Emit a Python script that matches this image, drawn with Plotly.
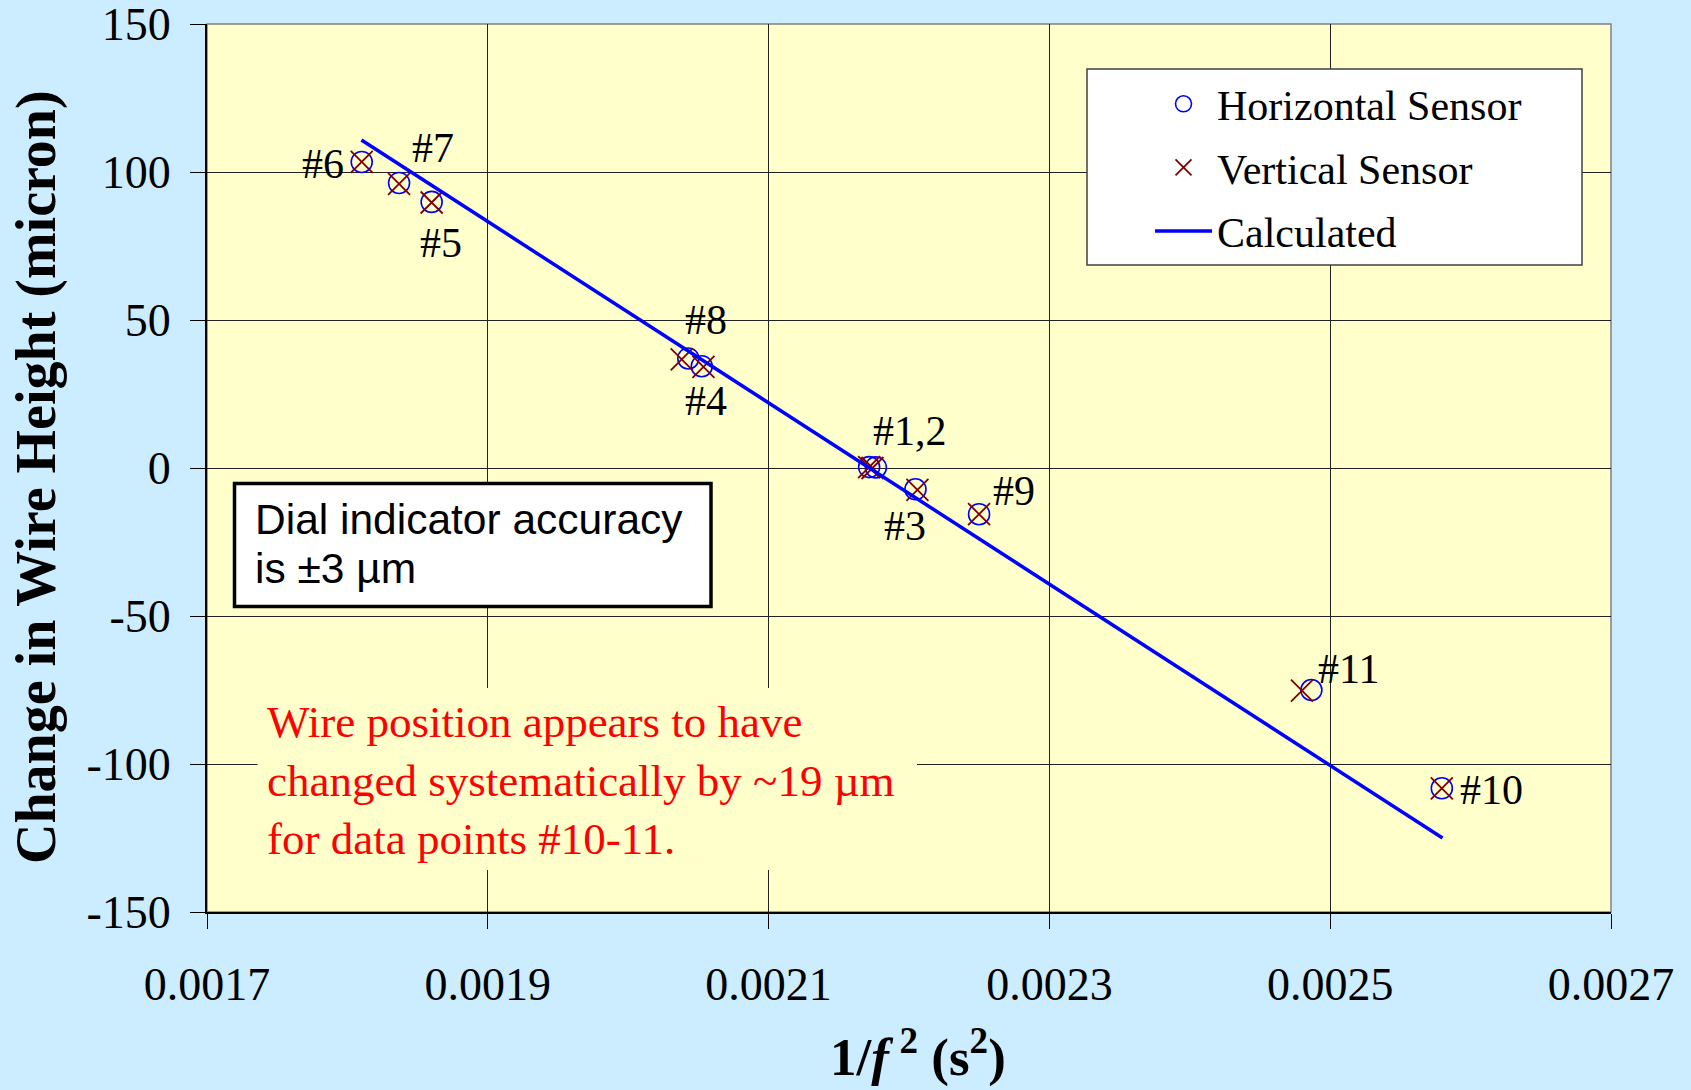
import plotly.graph_objects as go

# ---------------- data ----------------
point_labels = ["#1", "#2", "#3", "#4", "#5", "#6", "#7", "#8", "#9", "#10", "#11"]
horiz_x = [0.0021716, 0.0021764, 0.0022046, 0.0020524, 0.0018600, 0.0018102,
           0.0018368, 0.0020428, 0.0022499, 0.0025795, 0.0024866]
horiz_y = [0.3, 0.2, -7.2, 34.4, 89.9, 103.4, 96.3, 37.0, -15.6, -108.2, -75.0]
vert_x = [0.0021716, 0.0021740, 0.0022060, 0.0020536, 0.0018600, 0.0018102,
          0.0018368, 0.0020381, 0.0022499, 0.0025795, 0.0024799]
vert_y = [0.3, 0.0, -7.4, 34.2, 89.7, 103.4, 96.0, 36.7, -15.6, -108.2, -75.2]
calc_x = [0.00181, 0.00258]
calc_y = [110.8, -125.0]

x_ticks = [0.0017, 0.0019, 0.0021, 0.0023, 0.0025, 0.0027]
x_tick_text = ["0.0017", "0.0019", "0.0021", "0.0023", "0.0025", "0.0027"]
y_ticks = [150, 100, 50, 0, -50, -100, -150]
y_tick_text = ["150", "100", "50", "0", "-50", "-100", "-150"]

# label texts and their anchor points (data coords)
lab_text = ["#6", "#7", "#5", "#8", "#4", "#1,2", "#3", "#9", "#11", "#10"]
lab_x = [0.0017823, 0.0018610, 0.0018667, 0.0020551, 0.0020554, 0.0022005,
         0.0021969, 0.0022748, 0.0025127, 0.0026152]
lab_y = [102.6, 108.2, 75.9, 49.9, 22.6, 12.5, -19.6, -7.8, -67.9, -108.8]

# ---------------- layout constants ----------------
W, H = 1691, 1090
L, R, T, B = 207, 80, 24, 178
PW, PH = W - L - R, H - T - B

def px_x(px):
    return (px - L) / PW

def px_y(py):
    return (H - B - py) / PH

SERIF = "Liberation Serif, Times New Roman, serif"
SANS = "Liberation Sans, Arial, sans-serif"

fig = go.Figure()
fig.add_trace(go.Scatter(
    x=horiz_x, y=horiz_y, mode="markers", name="Horizontal Sensor",
    legendgroup="h",
    marker=dict(symbol="circle-open", size=21, color="#0000FF",
                line=dict(width=1.6, color="#0000FF")),
))
fig.add_trace(go.Scatter(
    x=vert_x, y=vert_y, mode="markers", name="Vertical Sensor",
    legendgroup="v",
    marker=dict(symbol="x-thin-open", size=22, color="#800000",
                line=dict(width=1.8, color="#800000")),
))
fig.add_trace(go.Scatter(
    x=calc_x, y=calc_y, mode="lines", name="Calculated",
    legendgroup="c",
    line=dict(color="#0000FF", width=3.5),
))

for t, x, y in zip(lab_text, lab_x, lab_y):
    fig.add_annotation(x=x, y=y, text=t, showarrow=False,
                       font=dict(family=SERIF, size=42, color="black"),
                       xanchor="center", yanchor="middle")

shapes = [
    # plot border (top/right grey)
    dict(type="rect", xref="paper", yref="paper", x0=0, x1=1, y0=0, y1=1,
         line=dict(color="#808080", width=1.5), layer="below"),
    # legend box
    dict(type="rect", xref="paper", yref="paper",
         x0=px_x(1087), x1=px_x(1582), y0=px_y(265), y1=px_y(69),
         fillcolor="white", line=dict(color="#404040", width=1.5), layer="above"),
    # dial indicator box
    dict(type="rect", xref="paper", yref="paper",
         x0=px_x(234.5), x1=px_x(711), y0=px_y(606.5), y1=px_y(483.5),
         fillcolor="white", line=dict(color="black", width=3.5), layer="above"),
    # red note background
    dict(type="rect", xref="paper", yref="paper",
         x0=px_x(257.5), x1=px_x(917), y0=px_y(870), y1=px_y(688),
         fillcolor="#FFFFCC", line=dict(width=0), layer="above"),
]

for txt, py in [("Dial indicator accuracy", 519), ("is ±3 µm", 568)]:
    fig.add_annotation(xref="paper", yref="paper", x=px_x(253), y=px_y(py),
                       xanchor="left", yanchor="middle", align="left", showarrow=False,
                       text=txt, font=dict(family=SANS, size=42.5, color="black"))

fig.add_annotation(xref="paper", yref="paper", x=px_x(265), y=px_y(780),
                   xanchor="left", yanchor="middle", align="left", showarrow=False,
                   text="Wire position appears to have<br>changed systematically by ~19 µm<br>for data points #10-11.",
                   font=dict(family=SERIF, size=45, color="#FF0000"))

# axis titles
fig.add_annotation(xref="paper", yref="paper", x=px_x(37), y=px_y(477),
                   xanchor="center", yanchor="middle", textangle=-90, showarrow=False,
                   text="<b>Change in Wire Height (micron)</b>",
                   font=dict(family=SERIF, size=56, color="black"))
fig.add_annotation(xref="paper", yref="paper", x=px_x(918), y=px_y(1053),
                   xanchor="center", yanchor="middle", showarrow=False,
                   text="<b>1/<i>f</i>\u2009<sup>2</sup> (s<sup>2</sup>)</b>",
                   font=dict(family=SERIF, size=53, color="black"))

fig.update_layout(
    width=W, height=H,
    margin=dict(l=L, r=R, t=T, b=B, autoexpand=False),
    paper_bgcolor="#CCECFF", plot_bgcolor="#FFFFCC",
    shapes=shapes,
    showlegend=True,
    legend=dict(x=px_x(1150), y=px_y(70), xanchor="left", yanchor="top",
                bgcolor="rgba(0,0,0,0)", borderwidth=0,
                font=dict(family=SERIF, size=42, color="black"),
                itemwidth=57, tracegroupgap=6),
    font=dict(family=SERIF, color="black"),
)

fig.update_xaxes(
    range=[0.0017, 0.0027], tickvals=x_ticks, ticktext=x_tick_text,
    showgrid=True, gridcolor="#222222", gridwidth=1,
    showline=True, linecolor="black", linewidth=2,
    ticks="outside", ticklen=15, tickcolor="black", tickwidth=1.2,
    ticklabelstandoff=16, ticklabeloverflow="allow",
    tickfont=dict(family=SERIF, size=46, color="black"),
    zeroline=False,
)
fig.update_yaxes(
    range=[-150, 150], tickvals=y_ticks, ticktext=y_tick_text,
    showgrid=True, gridcolor="#222222", gridwidth=1,
    showline=True, linecolor="black", linewidth=2,
    ticks="outside", ticklen=15, tickcolor="black", tickwidth=1.2,
    ticklabelstandoff=10, ticklabeloverflow="allow",
    tickfont=dict(family=SERIF, size=46, color="black"),
    zeroline=False,
)

fig.write_html("out.html")
